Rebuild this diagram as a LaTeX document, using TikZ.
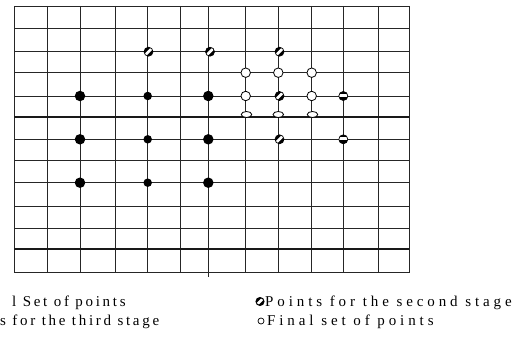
\documentclass[tikz,border=0pt]{standalone}
\usepackage{fontspec}
\setmainfont{Liberation Serif}
\newfontfamily\legfont[LetterSpace=26]{Liberation Serif}
\newfontfamily\legfontleft[LetterSpace=18]{Liberation Serif}
\usetikzlibrary{calc,shapes.geometric}
\tikzset{
  gridline/.style={line width=0.9pt, draw=black!85},
  thickline/.style={line width=1.8pt, draw=black!90},
  initbig/.style={circle, fill=black, minimum size=10.5pt, inner sep=0pt},
  initsmall/.style={circle, fill=black, minimum size=8.5pt, inner sep=0pt},
  secondpt/.style={circle, draw=black, line width=0.7pt, fill=black, minimum size=9pt, inner sep=0pt,
    path picture={\fill[white]
      ($(path picture bounding box.center)+(5.87,-4.03)$) --
      ($(path picture bounding box.center)+(4.03,-5.87)$) --
      ($(path picture bounding box.center)+(-5.87,4.03)$) --
      ($(path picture bounding box.center)+(-4.03,5.87)$) -- cycle;}},
  thirdpt/.style={circle, draw=black, line width=0.7pt, fill=black, minimum size=9pt, inner sep=0pt,
    path picture={\fill[white]
      ($(path picture bounding box.center)+(-7,-2.2)$) rectangle ($(path picture bounding box.center)+(7,0.6)$);}},
  finalpt/.style={circle, draw=black, line width=0.8pt, fill=white, minimum size=9.5pt, inner sep=0pt},
  finalflat/.style={ellipse, draw=black, line width=0.8pt, fill=white, minimum width=10.5pt, minimum height=6pt, inner sep=0pt},
  legtext/.style={anchor=base west, inner sep=0pt, font=\fontsize{15}{17}\legfont},
  legtextleft/.style={anchor=base west, inner sep=0pt, font=\fontsize{15}{17}\legfontleft},
  legfinal/.style={circle, draw=black, line width=0.7pt, fill=white, minimum size=6pt, inner sep=0pt},
}
\begin{document}
\begin{tikzpicture}[x=1pt, y=-1pt]
\useasboundingbox (0,0) rectangle (522,347);
\clip (0,0) rectangle (522,347);
% grid
\foreach \gx in {14.3,47.3,80,115,147.7,180.7,208.3,245.7,278.3,311.7,343.3,378.3,409.3}
  \draw[gridline] (\gx,6) -- (\gx,272.7);
\foreach \gy in {6,28.3,51.7,72.7,96,139.3,160.7,182.7,206,228.3,272.7}
  \draw[gridline] (14.3,\gy) -- (409.3,\gy);
\foreach \gy in {117.3,249.3}
  \draw[thickline] (14.3,\gy) -- (409.3,\gy);
\coordinate (tickA) at (208.3,272.7);
\coordinate (tickB) at (208.3,277);
\draw[gridline] (tickA) -- (tickB);
% initial set
\node[initbig] (i1) at (80,96) {};
\node[initsmall] (i2) at (147.7,96) {};
\node[initbig] (i3) at (208.3,96) {};
\node[initbig] (i4) at (80,139.3) {};
\node[initsmall] (i5) at (147.7,139.3) {};
\node[initbig] (i6) at (208.3,139.3) {};
\node[initbig] (i7) at (80,182.7) {};
\node[initsmall] (i8) at (147.7,182.7) {};
\node[initbig] (i9) at (208.3,182.7) {};
% second stage
\node[secondpt] (s1) at (148.5,51.7) {};
\node[secondpt] (s2) at (210,51.7) {};
\node[secondpt] (s3) at (279.5,51.7) {};
\node[secondpt] (s4) at (279.5,96) {};
\node[secondpt] (s5) at (279.5,139.3) {};
% third stage
\node[thirdpt] (t1) at (343.3,96) {};
\node[thirdpt] (t2) at (343.3,139.3) {};
% final set
\node[finalpt] (f1) at (245.7,72.7) {};
\node[finalpt] (f2) at (278.3,72.7) {};
\node[finalpt] (f3) at (311.7,72.7) {};
\node[finalpt] (f4) at (245.7,96) {};
\node[finalpt] (f5) at (311.7,96) {};
\node[finalflat] (f6) at (246.5,114.5) {};
\node[finalflat] (f7) at (278.3,114.5) {};
\node[finalflat] (f8) at (312.5,114.5) {};
% legend
\node[legtextleft] (l1) at (12,306) {l Set of points};
\node[legtextleft] (l2) at (0,325) {s for the third stage};
\node[secondpt, minimum size=8pt, line width=1pt] (m3) at (260,301.5) {};
\node[legtext] (l3) at (265,306) {Points for the second stage};
\node[legfinal] (m4) at (261,321) {};
\node[legtext] (l4) at (267,325) {Final set of points};
\end{tikzpicture}
\end{document}
